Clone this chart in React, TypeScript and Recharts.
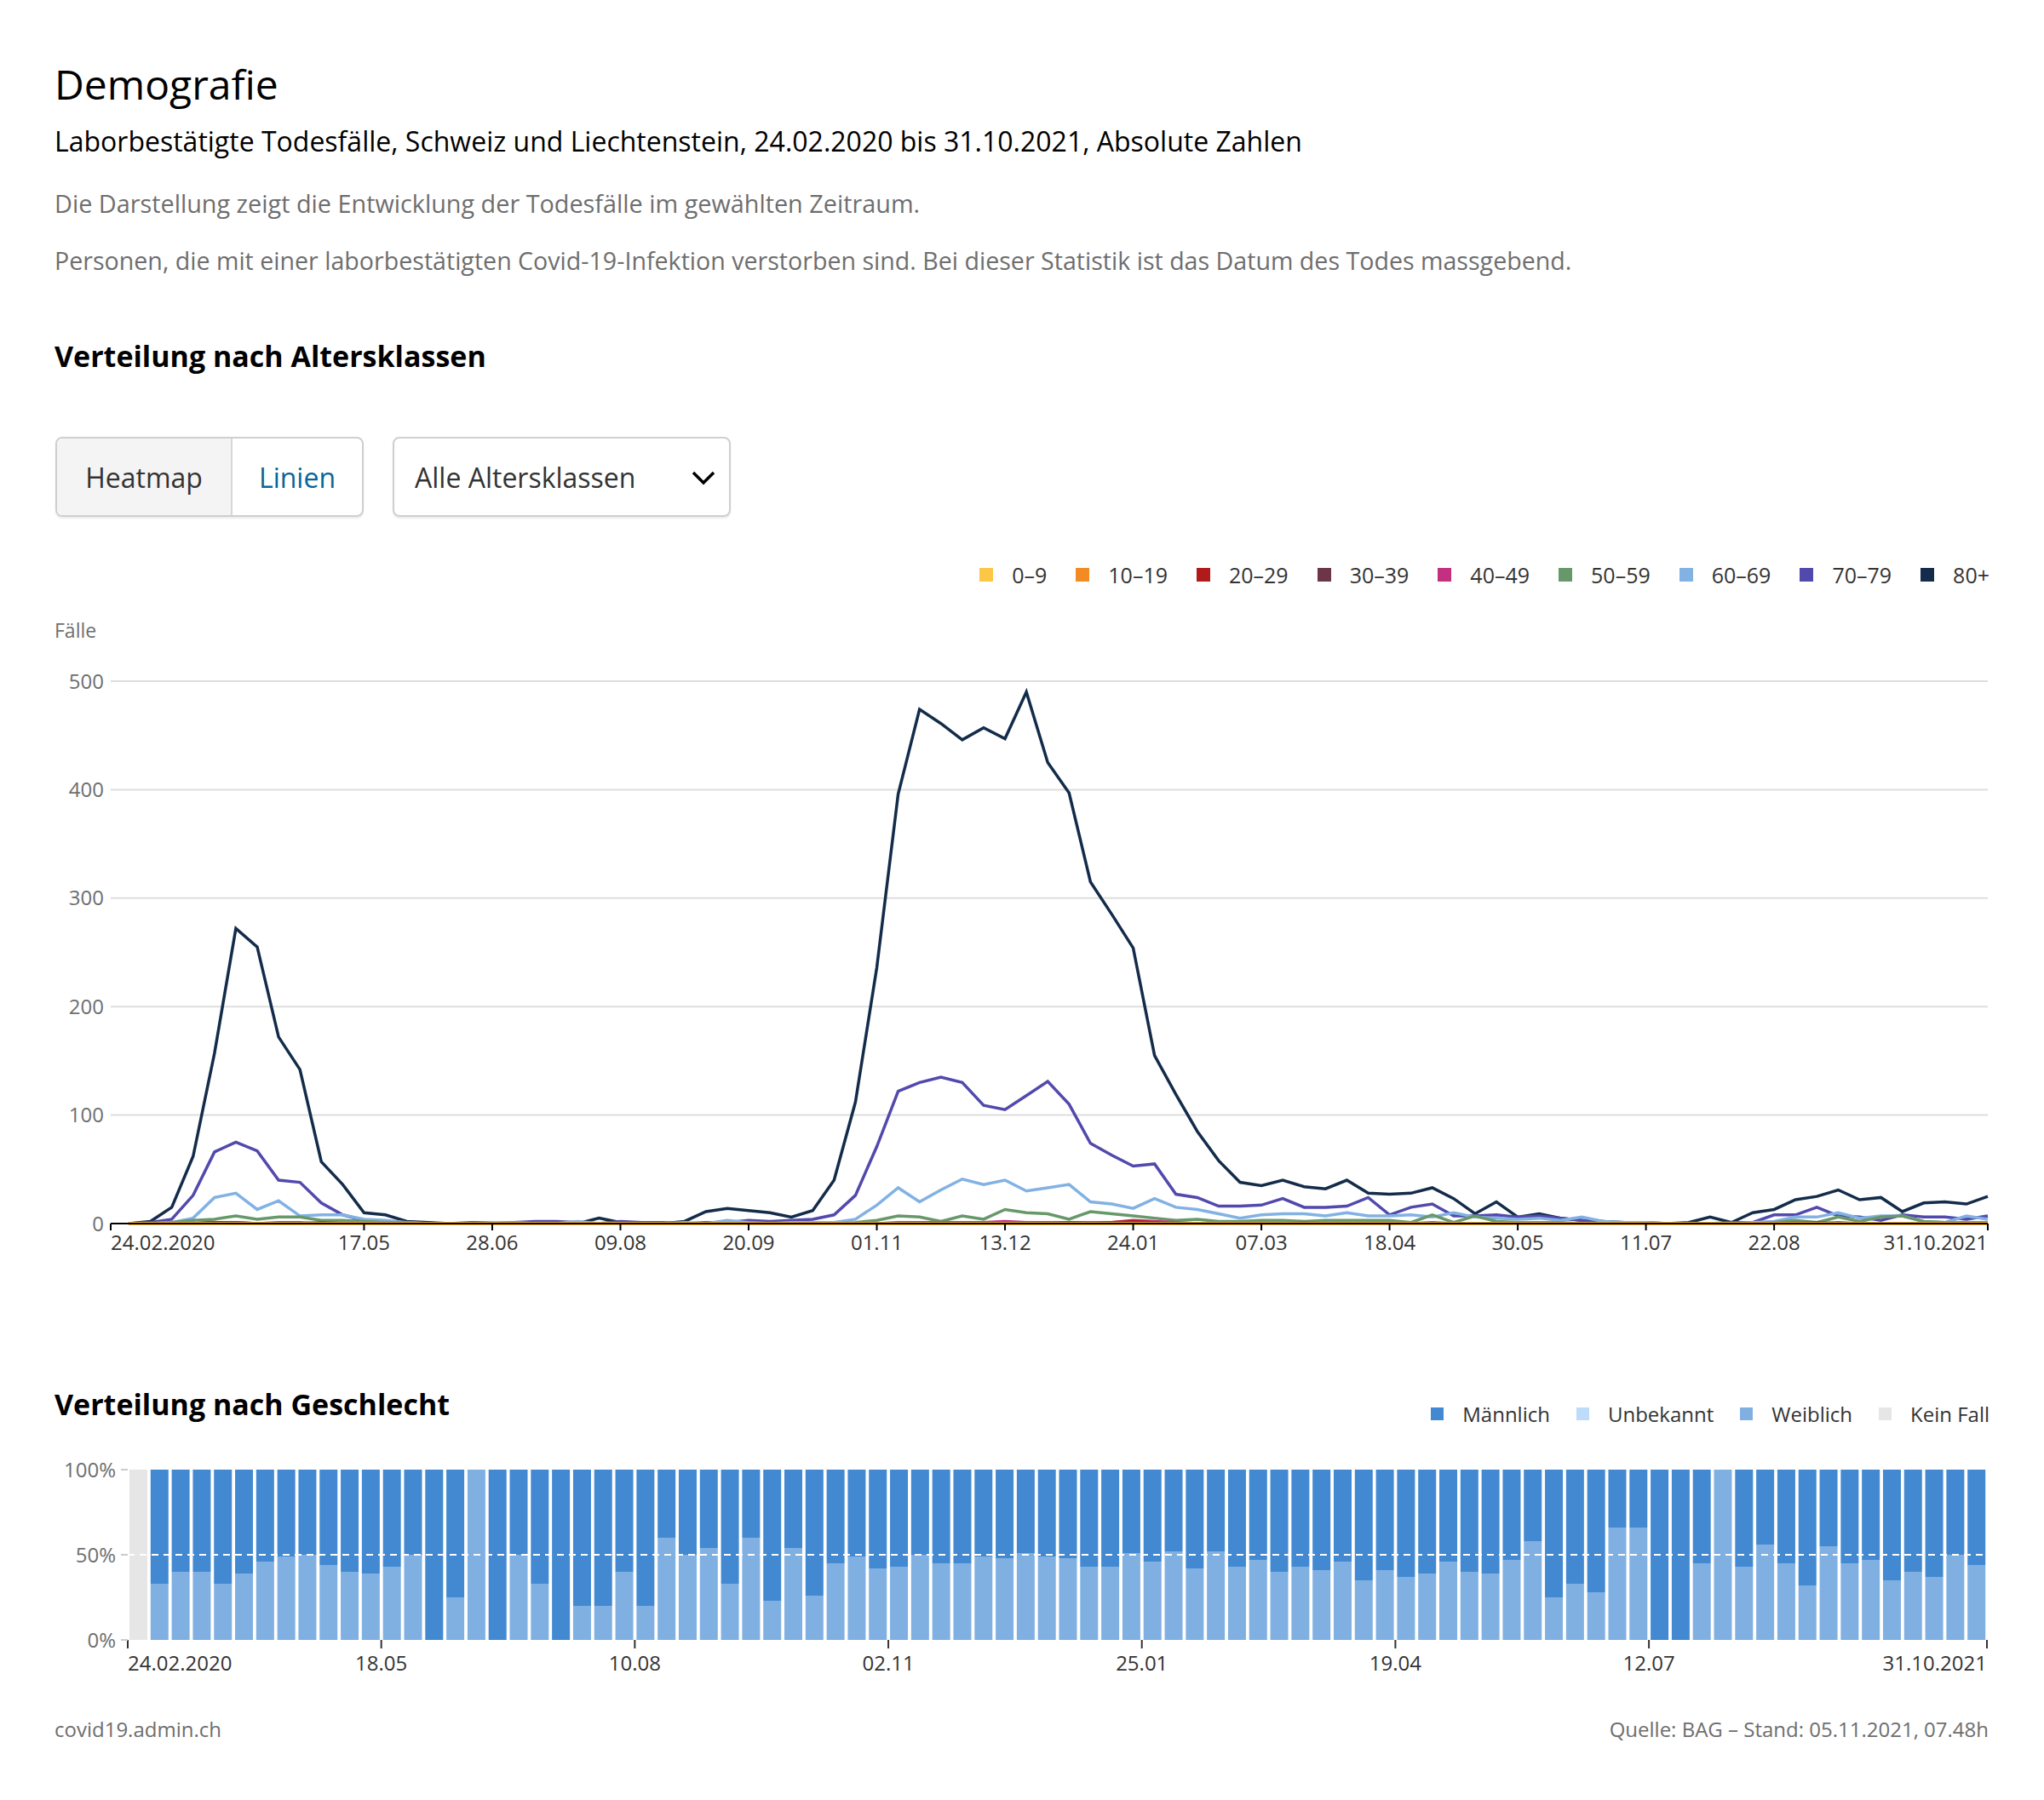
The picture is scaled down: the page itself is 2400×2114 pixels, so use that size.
import React from 'react';
import {
    LineChart,
    Line,
    BarChart,
    Bar,
    XAxis,
    YAxis,
    CartesianGrid,
    ReferenceLine,
} from 'recharts';

const FONT = '"Open Sans", "Noto Sans", sans-serif';

// Altersklassen und Farben
const ageLabels = ['0–9', '10–19', '20–29', '30–39', '40–49', '50–59', '60–69', '70–79', '80+'];
const ageKeys = ['a0', 'a10', 'a20', 'a30', 'a40', 'a50', 'a60', 'a70', 'a80'];
const ageColors = ['#fcc646', '#f28b24', '#b01a1a', '#6d3548', '#c2307f', '#67986a', '#82b1e4', '#5249ad', '#132c4a'];

// Todesfälle pro Woche (Woche endet Sonntag, erste Woche 24.02.–01.03.2020)
const deaths0 = [
    0, 0, 0, 0, 0, 0, 0, 0, 0, 0, 0, 0, 0, 0, 0, 0, 0, 0, 0, 0, 0, 0,
    0, 0, 0, 0, 0, 0, 0, 0, 0, 0, 0, 0, 0, 0, 0, 0, 0, 0, 0, 0, 0, 0,
    0, 0, 0, 0, 0, 0, 0, 0, 0, 0, 0, 0, 0, 0, 0, 0, 0, 0, 0, 0, 0, 0,
    0, 0, 0, 0, 0, 0, 0, 0, 0, 0, 0, 0, 0, 0, 0, 0, 0, 0, 0, 0, 0, 0,
];
const deaths10 = [
    0, 0, 0, 0, 0, 0, 0, 0, 0, 0, 0, 0, 0, 0, 0, 0, 0, 0, 0, 0, 0, 0,
    0, 0, 0, 0, 0, 0, 0, 0, 0, 0, 0, 0, 0, 0, 0, 0, 0, 0, 0, 0, 0, 0,
    0, 0, 0, 0, 0, 0, 0, 0, 0, 0, 0, 0, 0, 0, 0, 0, 0, 0, 0, 0, 0, 0,
    0, 0, 0, 0, 0, 0, 0, 0, 0, 0, 0, 0, 0, 0, 0, 0, 0, 0, 0, 0, 0, 0,
];
const deaths20 = [
    0, 0, 0, 0, 1, 0, 0, 0, 0, 1, 0, 0, 0, 0, 0, 0, 0, 0, 0, 0, 0, 0,
    0, 0, 0, 0, 0, 0, 0, 0, 0, 0, 0, 0, 0, 0, 0, 0, 0, 0, 0, 0, 0, 0,
    0, 0, 1, 2, 1, 0, 0, 0, 0, 0, 0, 0, 0, 0, 0, 0, 0, 0, 0, 0, 0, 0,
    0, 0, 0, 0, 0, 0, 0, 0, 0, 0, 0, 0, 0, 1, 0, 0, 0, 0, 0, 0, 0, 0,
];
const deaths30 = [
    0, 0, 0, 0, 1, 1, 0, 0, 0, 0, 0, 0, 0, 0, 0, 0, 0, 0, 0, 0, 0, 0,
    0, 0, 0, 0, 0, 0, 0, 0, 0, 0, 0, 0, 0, 0, 0, 0, 0, 0, 0, 0, 0, 0,
    1, 0, 0, 1, 0, 0, 0, 0, 0, 0, 0, 0, 0, 0, 0, 0, 0, 0, 0, 0, 0, 0,
    0, 0, 0, 0, 0, 0, 0, 0, 0, 0, 0, 0, 0, 0, 0, 0, 0, 0, 0, 0, 0, 0,
];
const deaths40 = [
    0, 0, 0, 0, 1, 1, 0, 1, 1, 0, 0, 0, 0, 0, 0, 0, 0, 0, 0, 0, 0, 0,
    0, 0, 0, 0, 0, 0, 0, 0, 0, 0, 0, 0, 0, 0, 1, 1, 1, 1, 1, 2, 1, 1,
    1, 1, 1, 3, 2, 1, 0, 0, 0, 0, 0, 1, 0, 0, 0, 0, 0, 1, 0, 0, 0, 0,
    0, 0, 0, 0, 0, 0, 0, 0, 0, 0, 0, 0, 1, 0, 1, 0, 0, 0, 0, 0, 0, 0,
];
const deaths50 = [
    0, 0, 1, 3, 4, 7, 4, 6, 6, 3, 3, 2, 1, 1, 0, 0, 0, 0, 1, 0, 0, 0,
    0, 0, 0, 0, 0, 0, 0, 0, 0, 0, 0, 0, 1, 3, 7, 6, 2, 7, 4, 13, 10, 9,
    4, 11, 9, 7, 5, 3, 4, 2, 2, 3, 3, 2, 3, 3, 3, 3, 1, 8, 1, 7, 2, 1,
    1, 1, 0, 0, 0, 0, 0, 0, 0, 0, 0, 1, 3, 1, 6, 2, 6, 7, 2, 1, 1, 1,
];
const deaths60 = [
    0, 0, 1, 5, 24, 28, 13, 21, 7, 8, 8, 4, 3, 1, 0, 0, 0, 1, 1, 0, 0, 2,
    0, 0, 0, 0, 1, 0, 3, 1, 0, 1, 1, 1, 4, 17, 33, 20, 31, 41, 36, 40, 30, 33,
    36, 20, 18, 14, 23, 15, 13, 9, 5, 8, 9, 9, 7, 10, 7, 7, 8, 6, 10, 6, 5, 4,
    5, 3, 6, 2, 1, 1, 0, 0, 0, 0, 1, 2, 6, 6, 10, 5, 7, 7, 2, 1, 7, 4,
];
const deaths70 = [
    0, 1, 4, 26, 66, 75, 67, 40, 38, 19, 8, 3, 1, 0, 0, 0, 1, 1, 1, 2, 2, 1,
    0, 2, 1, 1, 0, 1, 1, 3, 2, 3, 4, 8, 26, 71, 122, 130, 135, 130, 109, 105, 118, 131,
    110, 74, 63, 53, 55, 27, 24, 16, 16, 17, 23, 15, 15, 16, 24, 8, 15, 18, 7, 7, 8, 6,
    7, 5, 3, 1, 1, 0, 0, 0, 0, 1, 1, 8, 8, 15, 7, 6, 3, 8, 6, 6, 4, 7,
];
const deaths80 = [
    0, 2, 15, 62, 157, 272, 255, 172, 142, 57, 36, 10, 8, 2, 1, 0, 0, 0, 0, 1, 1, 0,
    5, 1, 0, 0, 2, 11, 14, 12, 10, 6, 12, 40, 112, 236, 396, 474, 461, 446, 457, 447, 490, 425,
    397, 315, 285, 254, 155, 119, 85, 58, 38, 35, 40, 34, 32, 40, 28, 27, 28, 33, 23, 9, 20, 6,
    9, 5, 3, 2, 1, 1, 0, 1, 6, 1, 10, 13, 22, 25, 31, 22, 24, 11, 19, 20, 18, 25,
];

// Geschlecht, Anteil in % pro Woche (Woche beginnt Montag, erste Woche 24.02.2020)
const weiblich = [
    0, 33, 40, 40, 33, 39, 46, 49, 50, 44, 40, 39, 43, 50, 0, 25, 100, 0, 50, 33, 0, 20,
    20, 40, 20, 60, 50, 54, 33, 60, 23, 54, 26, 45, 49, 42, 43, 50, 45, 45, 49, 48, 51, 49,
    48, 43, 43, 51, 46, 52, 42, 52, 43, 47, 40, 43, 41, 46, 35, 41, 37, 39, 46, 40, 39, 47,
    58, 25, 33, 28, 66, 66, 0, 0, 45, 100, 43, 56, 45, 32, 55, 45, 47, 35, 40, 37, 50, 44,
];
const maennlich = [
    0, 67, 60, 60, 67, 61, 54, 51, 50, 56, 60, 61, 57, 50, 100, 75, 0, 100, 50, 67, 100, 80,
    80, 60, 80, 40, 50, 46, 67, 40, 77, 46, 74, 55, 51, 58, 57, 50, 55, 55, 51, 52, 49, 51,
    52, 57, 57, 49, 54, 48, 58, 48, 57, 53, 60, 57, 59, 54, 65, 59, 63, 61, 54, 60, 61, 53,
    42, 75, 67, 72, 34, 34, 100, 100, 55, 0, 57, 44, 55, 68, 45, 55, 53, 65, 60, 63, 50, 56,
];
const unbekannt = [
    0, 0, 0, 0, 0, 0, 0, 0, 0, 0, 0, 0, 0, 0, 0, 0, 0, 0, 0, 0, 0, 0,
    0, 0, 0, 0, 0, 0, 0, 0, 0, 0, 0, 0, 0, 0, 0, 0, 0, 0, 0, 0, 0, 0,
    0, 0, 0, 0, 0, 0, 0, 0, 0, 0, 0, 0, 0, 0, 0, 0, 0, 0, 0, 0, 0, 0,
    0, 0, 0, 0, 0, 0, 0, 0, 0, 0, 0, 0, 0, 0, 0, 0, 0, 0, 0, 0, 0, 0,
];
const keinFall = [
    100, 0, 0, 0, 0, 0, 0, 0, 0, 0, 0, 0, 0, 0, 0, 0, 0, 0, 0, 0, 0, 0,
    0, 0, 0, 0, 0, 0, 0, 0, 0, 0, 0, 0, 0, 0, 0, 0, 0, 0, 0, 0, 0, 0,
    0, 0, 0, 0, 0, 0, 0, 0, 0, 0, 0, 0, 0, 0, 0, 0, 0, 0, 0, 0, 0, 0,
    0, 0, 0, 0, 0, 0, 0, 0, 0, 0, 0, 0, 0, 0, 0, 0, 0, 0, 0, 0, 0, 0,
];
const genderLabels = ['Männlich', 'Unbekannt', 'Weiblich', 'Kein Fall'];
const genderColors = ['#4289d2', '#bcdcfa', '#80b0e2', '#e6e6e6'];

// Achsenbeschriftungen
const lineTickDates = ['2020-02-24', '2020-05-17', '2020-06-28', '2020-08-09', '2020-09-20', '2020-11-01', '2020-12-13',
    '2021-01-24', '2021-03-07', '2021-04-18', '2021-05-30', '2021-07-11', '2021-08-22', '2021-10-31'];
const lineTickLabels = ['24.02.2020', '17.05', '28.06', '09.08', '20.09', '01.11', '13.12',
    '24.01', '07.03', '18.04', '30.05', '11.07', '22.08', '31.10.2021'];
const barTickDates = ['2020-02-24', '2020-05-18', '2020-08-10', '2020-11-02', '2021-01-25', '2021-04-19', '2021-07-12', '2021-11-01'];
const barTickLabels = ['24.02.2020', '18.05', '10.08', '02.11', '25.01', '19.04', '12.07', '31.10.2021'];
const yTicks = [0, 100, 200, 300, 400, 500];
const pctTicks = [0, 50, 100];

const START = Date.parse('2020-02-24');
const dayOf = (iso: string) => Math.round((Date.parse(iso) - START) / 86400000);

const lineTicks = lineTickDates.map(dayOf);
const barTicks = barTickDates.map(dayOf);
const ageSeries = [deaths0, deaths10, deaths20, deaths30, deaths40, deaths50, deaths60, deaths70, deaths80];

const lineData = deaths80.map((_, i) => {
    const row: Record<string, number> = { day: 6 + 7 * i };
    ageKeys.forEach((k, j) => { row[k] = ageSeries[j][i]; });
    return row;
});

const barData = weiblich.map((w, i) => ({
    day: 3.5 + 7 * i,
    weiblich: w,
    unbekannt: unbekannt[i],
    maennlich: maennlich[i],
    keinFall: keinFall[i],
}));

const makeTick = (ticks: number[], labels: string[], dy: number) => (props: any) => {
    const { x, y, payload } = props;
    const idx = ticks.indexOf(payload.value);
    const anchor = idx === 0 ? 'start' : idx === ticks.length - 1 ? 'end' : 'middle';
    return (
        <text x={x} y={y} dy={dy} textAnchor={anchor} fill="#333" fontSize={24} fontFamily={FONT}>
            {labels[idx]}
        </text>
    );
};

const text = (top: number, size: number, extra: React.CSSProperties = {}): React.CSSProperties => ({
    position: 'absolute',
    top,
    left: 64,
    fontSize: size,
    lineHeight: 1,
    whiteSpace: 'nowrap',
    ...extra,
});

const LegendRow = ({ labels, colors, top, size, gap, fontSize }: {
    labels: string[]; colors: string[]; top: number; size: number; gap: number; fontSize: number;
}) => (
    <div style={{
        position: 'absolute',
        top,
        right: 64,
        height: 30,
        display: 'flex',
        alignItems: 'center',
        gap,
        fontSize,
        color: '#333',
    }}>
        {labels.map((l, i) => (
            <div key={l} style={{ display: 'flex', alignItems: 'center', gap: 22 }}>
                <span style={{ width: size, height: size, background: colors[i], display: 'inline-block' }} />
                <span>{l}</span>
            </div>
        ))}
    </div>
);

const App: React.FC = () => {
    return (
        <div style={{
            position: 'absolute',
            left: 0,
            top: 0,
            width: 2400,
            height: 2114,
            background: '#fff',
            fontFamily: FONT,
            color: '#000',
            overflow: 'hidden',
        }}>
            <div style={text(75, 48)}>Demografie</div>
            <div style={text(150, 32, { fontWeight: 500 })}>
                Laborbestätigte Todesfälle, Schweiz und Liechtenstein, 24.02.2020 bis 31.10.2021, Absolute Zahlen
            </div>
            <div style={text(225, 28.8, { color: '#6e6e6e' })}>
                Die Darstellung zeigt die Entwicklung der Todesfälle im gewählten Zeitraum.
            </div>
            <div style={text(292, 28.6, { color: '#6e6e6e' })}>
                Personen, die mit einer laborbestätigten Covid-19-Infektion verstorben sind. Bei dieser Statistik ist das Datum des Todes massgebend.
            </div>
            <div style={text(401, 34, { fontWeight: 700 })}>Verteilung nach Altersklassen</div>

            {/* Umschalter */}
            <div style={{
                position: 'absolute',
                left: 65,
                top: 513,
                width: 362,
                height: 94,
                border: '2px solid #cfcfcf',
                borderRadius: 8,
                boxSizing: 'border-box',
                display: 'flex',
                overflow: 'hidden',
                fontSize: 32,
                boxShadow: '0 2px 2px rgba(0,0,0,0.08)',
            }}>
                <div style={{
                    width: 204,
                    background: '#f4f4f4',
                    borderRight: '2px solid #d6d6d6',
                    display: 'flex',
                    alignItems: 'center',
                    justifyContent: 'center',
                    color: '#333',
                }}>Heatmap</div>
                <div style={{
                    flex: 1,
                    display: 'flex',
                    alignItems: 'center',
                    justifyContent: 'center',
                    color: '#0a6598',
                }}>Linien</div>
            </div>
            <div style={{
                position: 'absolute',
                left: 461,
                top: 513,
                width: 397,
                height: 94,
                border: '2px solid #cfcfcf',
                borderRadius: 8,
                boxSizing: 'border-box',
                display: 'flex',
                alignItems: 'center',
                paddingLeft: 24,
                fontSize: 32,
                color: '#333',
                boxShadow: '0 2px 2px rgba(0,0,0,0.08)',
            }}>
                Alle Altersklassen
                <svg width={30} height={18} style={{ position: 'absolute', left: 348, top: 37 }}>
                    <polyline points="3,3 15,15 27,3" fill="none" stroke="#000" strokeWidth={3.5} />
                </svg>
            </div>

            <LegendRow labels={ageLabels} colors={ageColors} top={660} size={16} gap={34} fontSize={25} />
            <div style={text(729, 23, { color: '#6e6e6e' })}>Fälle</div>

            <div style={{ position: 'absolute', left: 0, top: 640 }}>
                <LineChart
                    width={2400}
                    height={880}
                    data={lineData}
                    margin={{ top: 160, right: 66, left: 70, bottom: 33 }}
                >
                    <CartesianGrid vertical={false} stroke="#dedede" strokeWidth={2} />
                    <XAxis
                        type="number"
                        dataKey="day"
                        domain={[0, 615]}
                        ticks={lineTicks}
                        interval={0}
                        height={50}
                        axisLine={{ stroke: '#000', strokeWidth: 2 }}
                        tickLine={{ stroke: '#000', strokeWidth: 2 }}
                        tickSize={8}
                        tick={makeTick(lineTicks, lineTickLabels, 21)}
                    />
                    <YAxis
                        domain={[0, 500]}
                        ticks={yTicks}
                        width={60}
                        axisLine={false}
                        tickLine={false}
                        tick={{ fill: '#6e6e6e', fontSize: 24, fontFamily: FONT }}
                    />
                    {[...ageKeys].reverse().map((k) => {
                        const j = ageKeys.indexOf(k);
                        return (
                            <Line
                                key={k}
                                type="linear"
                                dataKey={k}
                                name={ageLabels[j]}
                                stroke={ageColors[j]}
                                strokeWidth={3.5}
                                dot={false}
                                isAnimationActive={false}
                            />
                        );
                    })}
                </LineChart>
            </div>

            <div style={text(1632, 34, { fontWeight: 700 })}>Verteilung nach Geschlecht</div>
            <LegendRow labels={genderLabels} colors={genderColors} top={1645} size={15} gap={31} fontSize={24} />

            <div style={{ position: 'absolute', left: 0, top: 1600 }}>
                <BarChart
                    width={2400}
                    height={400}
                    data={barData}
                    margin={{ top: 126, right: 67, left: 70, bottom: 24 }}
                >
                    <XAxis
                        type="number"
                        dataKey="day"
                        domain={[0, 616]}
                        ticks={barTicks}
                        interval={0}
                        height={50}
                        axisLine={false}
                        tickLine={{ stroke: '#333', strokeWidth: 2 }}
                        tickSize={10}
                        tick={makeTick(barTicks, barTickLabels, 24)}
                    />
                    <YAxis
                        domain={[0, 100]}
                        ticks={pctTicks}
                        width={80}
                        axisLine={false}
                        tickLine={{ stroke: '#cccccc', strokeWidth: 2 }}
                        tickSize={8}
                        tickMargin={6}
                        tickFormatter={(v) => `${v}%`}
                        tick={{ fill: '#6e6e6e', fontSize: 24, fontFamily: FONT }}
                    />
                    <Bar dataKey="weiblich" stackId="g" fill={genderColors[2]} barSize={21} isAnimationActive={false} />
                    <Bar dataKey="unbekannt" stackId="g" fill={genderColors[1]} barSize={21} isAnimationActive={false} />
                    <Bar dataKey="maennlich" stackId="g" fill={genderColors[0]} barSize={21} isAnimationActive={false} />
                    <Bar dataKey="keinFall" stackId="g" fill={genderColors[3]} barSize={21} isAnimationActive={false} />
                    <ReferenceLine y={50} stroke="#fff" strokeWidth={2} strokeDasharray="8 6" />
                </BarChart>
            </div>

            <div style={text(2019, 24, { color: '#6e6e6e' })}>covid19.admin.ch</div>
            <div style={text(2019, 24, { color: '#6e6e6e', left: undefined, right: 65 })}>
                Quelle: BAG – Stand: 05.11.2021, 07.48h
            </div>
        </div>
    );
};

export default App;
